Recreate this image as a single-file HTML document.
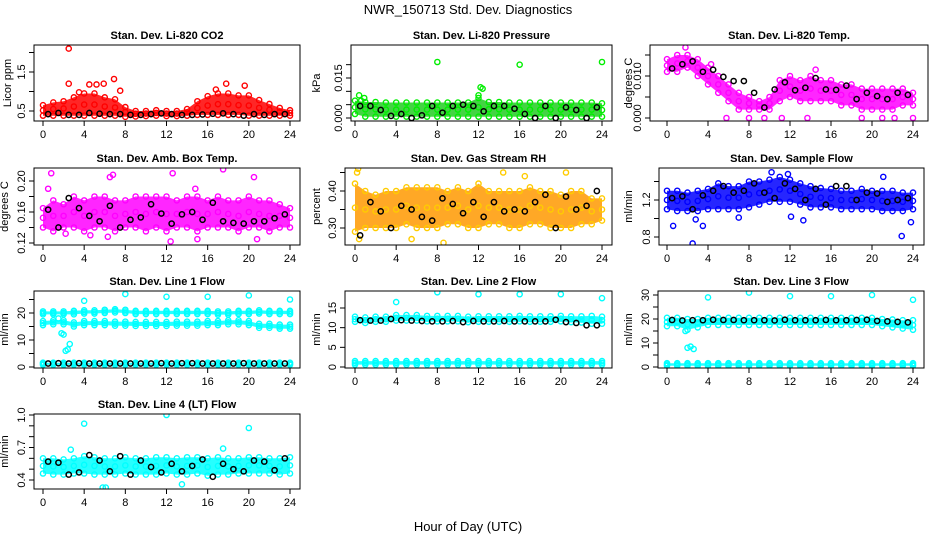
<!DOCTYPE html>
<html><head><meta charset="utf-8"><style>
html,body{margin:0;padding:0;background:#fff;}
svg{display:block;font-family:"Liberation Sans",sans-serif;}
</style></head><body>
<svg id="chart" width="936" height="540" viewBox="0 0 936 540">
<text x="468" y="14" text-anchor="middle" font-size="13">NWR_150713  Std. Dev. Diagnostics</text>
<text x="468" y="531" text-anchor="middle" font-size="13">Hour of Day (UTC)</text>
</svg>
<script>
// ---- data (hourly cloud envelopes 0..24, black hourly means at h+0.5, outliers) ----
const hours = [0,1,2,3,4,5,6,7,8,9,10,11,12,13,14,15,16,17,18,19,20,21,22,23,24];
const xTicks = [0,4,8,12,16,20,24];

const co2Lo = [0.38,0.38,0.38,0.38,0.38,0.38,0.38,0.38,0.35,0.36,0.37,0.38,0.37,0.37,0.38,0.40,0.40,0.40,0.40,0.40,0.38,0.38,0.38,0.38,0.38];
const co2Hi = [0.65,0.72,0.75,0.85,0.95,0.95,0.85,0.80,0.60,0.50,0.50,0.52,0.50,0.50,0.55,0.75,0.88,0.95,0.95,0.90,0.90,0.78,0.68,0.58,0.52];
const co2Black = [0.42,0.45,0.40,0.40,0.45,0.43,0.42,0.42,0.40,0.40,0.42,0.44,0.42,0.40,0.40,0.41,0.43,0.44,0.42,0.38,0.42,0.40,0.42,0.42];
const co2OutX = [2.5,2.5,6.9,17.8,19.6,5.2,4.5,3.5,5.9,7.5,16.8];
const co2OutY = [2.1,1.2,1.32,1.2,1.15,1.18,1.18,0.98,1.2,1.02,1.05];

const presLo = [0.0015,0.0005,0.0005,0.0005,0.0005,0.0005,0.0005,0.0005,0.0005,0.0005,0.0005,0.0005,0.0005,0.0005,0.0005,0.0005,0.0005,0.0005,0.0005,0.0005,0.0005,0.0005,0.0005,0.0005,0.0005];
const presHi = [0.0065,0.006,0.006,0.0058,0.0058,0.0058,0.0058,0.0058,0.0058,0.0058,0.0058,0.0058,0.0075,0.006,0.006,0.0058,0.0058,0.0058,0.0058,0.0058,0.0058,0.0058,0.0058,0.0058,0.0055];
const presBlack = [0.0045,0.0045,0.0030,0.0008,0.0015,0.0,0.0010,0.0045,0.0020,0.0045,0.0050,0.0045,0.0025,0.0045,0.0045,0.0035,0.0015,0.0,0.0045,0.0,0.0040,0.0030,0.0,0.0040];
const presOutX = [8,16,24,0.4,0.6,0.9,12.2,12.0,12.4];
const presOutY = [0.021,0.020,0.021,0.0085,0.0065,0.0075,0.0115,0.0085,0.011];

const tempLo = [0.011,0.011,0.012,0.010,0.008,0.006,0.004,0.002,0.002,0.002,0.002,0.004,0.005,0.004,0.004,0.004,0.004,0.003,0.003,0.002,0.002,0.002,0.002,0.003,0.003];
const tempHi = [0.014,0.015,0.015,0.014,0.012,0.010,0.008,0.006,0.005,0.004,0.005,0.009,0.010,0.009,0.010,0.009,0.009,0.008,0.008,0.007,0.007,0.007,0.007,0.007,0.006];
const tempBlack = [0.0118,0.0128,0.0135,0.011,0.0115,0.0098,0.0088,0.0088,0.006,0.0025,0.0068,0.0085,0.0066,0.0072,0.0095,0.0068,0.0067,0.0077,0.0045,0.0060,0.0052,0.0045,0.0060,0.0055];
const tempOutX = [5.8,8,9.5,11.2,13.7,19,21,22.2,24,1.8,4.3,14.5];
const tempOutY = [0,0,0,0,0,0,0,0,0,0.0168,0.0128,0.0115];

const ambLo = [0.14,0.135,0.14,0.14,0.135,0.14,0.14,0.135,0.14,0.14,0.135,0.14,0.135,0.14,0.14,0.135,0.14,0.14,0.14,0.135,0.14,0.14,0.135,0.14,0.14];
const ambHi = [0.165,0.175,0.17,0.18,0.175,0.18,0.18,0.175,0.175,0.18,0.18,0.18,0.18,0.175,0.18,0.18,0.175,0.18,0.175,0.175,0.18,0.175,0.175,0.17,0.165];
const ambBlack = [0.163,0.14,0.178,0.165,0.155,0.148,0.168,0.14,0.15,0.153,0.17,0.158,0.145,0.157,0.16,0.15,0.172,0.148,0.146,0.145,0.148,0.148,0.152,0.157];
const ambOutX = [0.5,0.8,6.5,6.8,12.6,17.5,20.5,12.4,15,6.3,2.2,4.6,14.8,20.8];
const ambOutY = [0.19,0.21,0.205,0.208,0.21,0.215,0.205,0.122,0.125,0.128,0.132,0.13,0.19,0.125];

const rhLo = [0.29,0.30,0.30,0.30,0.30,0.31,0.30,0.30,0.30,0.31,0.31,0.30,0.30,0.31,0.31,0.30,0.30,0.31,0.31,0.30,0.30,0.30,0.31,0.31,0.32];
const rhHi = [0.42,0.40,0.39,0.40,0.40,0.41,0.41,0.41,0.41,0.40,0.41,0.40,0.42,0.40,0.40,0.40,0.40,0.41,0.40,0.40,0.39,0.40,0.40,0.38,0.38];
const rhBlack = [0.28,0.37,0.345,0.30,0.36,0.35,0.33,0.32,0.38,0.365,0.34,0.37,0.33,0.37,0.345,0.35,0.345,0.37,0.39,0.30,0.385,0.35,0.36,0.40];
const rhOutX = [0.3,0.2,12.0,8.6,0.4,5.5,14.4,20.5,16.5,23.8];
const rhOutY = [0.46,0.45,0.47,0.26,0.27,0.27,0.45,0.45,0.44,0.47];

const sfLo = [1.10,1.08,1.08,1.08,1.10,1.10,1.10,1.10,1.12,1.15,1.18,1.18,1.18,1.15,1.12,1.12,1.12,1.10,1.10,1.10,1.10,1.08,1.08,1.08,1.10];
const sfHi = [1.30,1.30,1.28,1.30,1.32,1.38,1.35,1.35,1.40,1.40,1.42,1.45,1.42,1.38,1.35,1.33,1.32,1.30,1.30,1.32,1.30,1.30,1.30,1.28,1.28];
const sfBlack = [1.22,1.24,1.10,1.25,1.30,1.35,1.28,1.30,1.38,1.28,1.22,1.38,1.32,1.20,1.32,1.15,1.35,1.35,1.20,1.28,1.27,1.18,1.20,1.22];
const sfOutX = [2.5,0.6,2.8,3.5,7.0,10.2,12.1,13.3,22.9,23.8,11.8,21.1];
const sfOutY = [0.73,0.92,0.99,0.92,1.01,1.50,1.02,0.98,0.81,0.96,1.48,1.45];

const l1UpLo = [19.5,19.5,19.5,19.5,19.8,19.8,20,20.2,20,19.6,19.6,19.6,19.6,19.6,19.6,19.6,19.6,19.4,19.4,19.6,19.6,19.8,19.6,19.6,19.6];
const l1UpHi = [20.6,20.6,20.6,20.8,21.0,21.0,21.2,21.4,21.2,20.8,20.8,20.8,20.8,20.8,20.8,20.8,20.8,20.6,20.6,20.8,20.8,21.0,20.8,20.8,20.8];
const l1MidLo = [15.5,15.8,15.8,15.0,15.5,15.5,15.5,15.3,15.3,15.2,15.2,15.2,15.2,15.3,15.3,15.3,15.5,15.5,15.8,15.8,15.5,14.5,14.5,14.2,14.2];
const l1MidHi = [17.0,17.3,17.3,16.5,17.0,17.0,17.0,16.8,16.8,16.7,16.7,16.7,16.7,16.8,16.8,16.8,17.0,17.0,17.3,17.3,17.0,16.0,16.0,15.7,15.7];
const l1BaseLo = [0.8,0.8,0.8,0.8,0.8,0.8,0.8,0.8,0.8,0.8,0.8,0.8,0.8,0.8,0.8,0.8,0.8,0.8,0.8,0.8,0.8,0.8,0.8,0.8,0.8];
const l1BaseHi = [1.6,1.6,1.6,1.6,1.6,1.6,1.6,1.6,1.6,1.6,1.6,1.6,1.6,1.6,1.6,1.6,1.6,1.6,1.6,1.6,1.6,1.6,1.6,1.6,1.6];
const l1Black = [1.3,1.4,1.3,1.4,1.3,1.3,1.3,1.3,1.3,1.3,1.3,1.4,1.3,1.4,1.4,1.3,1.3,1.3,1.3,1.4,1.3,1.3,1.3,1.3];
const l1OutX = [4,8,12,16,20,24,1.8,2.0,2.2,2.4,2.6,1.5,0.1];
const l1OutY = [24.5,27,26,26,26.5,25,12.5,12,6,6.5,8.5,18,1.2];

const l2BandLo = [11.5,11.2,11.5,11.5,11.8,11.8,11.8,11.6,11.6,11.6,11.6,11.4,11.5,11.5,11.5,11.5,11.6,11.5,11.5,11.5,11.6,11.4,11.3,11.0,11.0];
const l2BandHi = [12.8,12.6,12.8,12.8,13.2,13.2,13.2,13.0,13.0,13.0,13.0,12.8,12.9,12.9,12.9,12.9,13.0,12.9,12.9,12.9,13.0,12.9,12.9,13.0,12.8];
const l2BaseLo = [0.6,0.6,0.6,0.6,0.6,0.6,0.6,0.6,0.6,0.6,0.6,0.6,0.6,0.6,0.6,0.6,0.6,0.6,0.6,0.6,0.6,0.6,0.6,0.6,0.6];
const l2BaseHi = [1.5,1.5,1.5,1.5,1.5,1.5,1.5,1.5,1.5,1.5,1.5,1.5,1.5,1.5,1.5,1.5,1.5,1.5,1.5,1.5,1.5,1.5,1.5,1.5,1.5];
const l2Black = [11.9,11.8,11.8,12.2,11.9,11.8,11.7,11.6,11.6,11.7,11.4,11.7,11.6,11.6,11.7,11.6,11.6,11.6,11.6,12.0,11.4,11.2,10.6,10.6];
const l2OutX = [4,8,12,16,20,24];
const l2OutY = [16.5,19,18.5,18.5,18.5,17.5];

const l3BandLo = [17.0,17.0,15.5,16.5,17.5,17.5,17.5,17.5,17.5,17.5,17.5,17.5,17.5,17.5,17.5,17.5,17.5,17.5,17.5,17.5,17.5,17.0,16.5,16.0,15.5];
const l3BandHi = [20.5,20.5,20.0,20.0,20.5,20.5,20.5,20.5,20.5,20.5,20.5,20.5,20.5,20.5,20.5,20.5,20.5,20.5,20.5,20.5,20.5,20.0,19.8,19.5,19.5];
const l3BaseLo = [0.5,0.5,0.5,0.5,0.5,0.5,0.5,0.5,0.5,0.5,0.5,0.5,0.5,0.5,0.5,0.5,0.5,0.5,0.5,0.5,0.5,0.5,0.5,0.5,0.5];
const l3BaseHi = [1.6,1.6,1.6,1.6,1.6,1.6,1.6,1.6,1.6,1.6,1.6,1.6,1.6,1.6,1.6,1.6,1.6,1.6,1.6,1.6,1.6,1.6,1.6,1.6,1.6];
const l3Black = [19.6,19.4,19.5,19.5,19.7,19.6,19.6,19.5,19.5,19.5,19.4,19.7,19.5,19.5,19.5,19.6,19.5,19.5,19.6,19.7,19.2,19.0,18.8,18.6];
const l3OutX = [4,8,12,16,20,24,2.0,2.3,2.6,1.8];
const l3OutY = [29,31,29.5,29.5,30,28,8,8.5,7.5,15];

const l4Lo = [0.46,0.45,0.45,0.46,0.46,0.45,0.45,0.45,0.46,0.45,0.45,0.45,0.46,0.45,0.45,0.46,0.44,0.45,0.45,0.46,0.46,0.46,0.46,0.45,0.46];
const l4Hi = [0.60,0.60,0.59,0.60,0.62,0.61,0.60,0.60,0.61,0.60,0.60,0.61,0.61,0.60,0.61,0.61,0.60,0.61,0.60,0.60,0.61,0.61,0.60,0.60,0.61];
const l4Black = [0.57,0.56,0.45,0.47,0.63,0.58,0.48,0.62,0.45,0.58,0.52,0.47,0.55,0.48,0.53,0.59,0.43,0.55,0.50,0.48,0.58,0.57,0.49,0.60];
const l4OutX = [4,12,20,5.8,6.1,13.5,2.7,17.5];
const l4OutY = [0.92,1.0,0.88,0.33,0.33,0.36,0.68,0.69];

// ---- layout ----
const svg = document.getElementById('chart');
const NS = 'http://www.w3.org/2000/svg';
function mk(tag, attrs, parent){ const e=document.createElementNS(NS,tag); for(const k in attrs) e.setAttribute(k,attrs[k]); (parent||svg).appendChild(e); return e; }

function panel(cfg){
  const g = mk('g',{});
  
  
  const xs = h => cfg.x0 + h*(cfg.x24-cfg.x0)/24;
  const ys = v => cfg.p1 + (v-cfg.v1)*(cfg.p2-cfg.p1)/(cfg.v2-cfg.v1);
  // title
  const t = mk('text',{x:(cfg.l+cfg.r)/2, y:cfg.t-6, 'text-anchor':'middle','font-size':11,'font-weight':'bold'},g);
  t.textContent = cfg.title;
  
  
  // clip
  const cid = 'c'+cfg.name;
  const cp = mk('clipPath',{id:cid},g); mk('rect',{x:cfg.l,y:cfg.t,width:cfg.r-cfg.l,height:cfg.b-cfg.t},cp);
  const pg = mk('g',{'clip-path':'url(#'+cid+')'},g);
  // bands
  cfg.bands.forEach(([lo,hi])=>{
    let d='';
    hours.forEach((h,i)=>{ d += (i?'L':'M')+xs(h).toFixed(1)+','+ys(hi[i]).toFixed(1); });
    for(let i=hours.length-1;i>=0;i--) d += 'L'+xs(hours[i]).toFixed(1)+','+ys(lo[i]).toFixed(1);
    const p = mk('path',{d:d+'Z',fill:cfg.fill,opacity:0.85},pg);
    
    
    hours.forEach((h,i)=>{
      [lo[i],hi[i],(lo[i]+hi[i])/2].forEach(v=>{
        const c = mk('circle',{cx:xs(h),cy:ys(v),r:2.6,fill:'none',stroke:cfg.col,'stroke-width':1.4},pg);
        
        
      });
    });
  });
  cfg.outX.forEach((h,i)=>{
    const c = mk('circle',{cx:xs(h),cy:ys(cfg.outY[i]),r:2.6,fill:'none',stroke:cfg.col,'stroke-width':1.4},pg);
    
    
  });
  cfg.black.forEach((v,i)=>{
    const c = mk('circle',{cx:xs(i+0.5),cy:ys(v),r:2.6,fill:'none',stroke:'#000','stroke-width':1.5},pg);
    
    
  });
  // box
  const bx = mk('rect',{x:cfg.l,y:cfg.t,width:cfg.r-cfg.l,height:cfg.b-cfg.t,fill:'none',stroke:'#000','stroke-width':1},g);
  
  
  // x axis
  xTicks.forEach(h=>{
    mk('line',{x1:xs(h),x2:xs(h),y1:cfg.b,y2:cfg.b+5,stroke:'#000'},g);
    const tl = mk('text',{x:xs(h),y:cfg.b+17,'text-anchor':'middle','font-size':11},g);
    tl.textContent = h;
    
    
  });
  // y axis
  cfg.yt.forEach((v,i)=>{
    const y = ys(v);
    mk('line',{x1:cfg.l-5,x2:cfg.l,y1:y,y2:y,stroke:'#000'},g);
    if(cfg.yl[i]){
      const tl = mk('text',{x:cfg.l-9,y:y,'text-anchor':'middle','font-size':11,transform:'rotate(-90 '+(cfg.l-9)+' '+y+')'},g);
      tl.textContent = cfg.yl[i];
      
      
    }
  });
  const my = (cfg.t+cfg.b)/2;
  const yl = mk('text',{x:cfg.ax,y:my,'text-anchor':'middle','font-size':11,transform:'rotate(-90 '+cfg.ax+' '+my+')'},g);
  yl.textContent = cfg.ylab;
  
  
}

const R1=[45,121], R2=[168,245], R3=[291,368], R4=[414,489];
panel({name:'panel-co2',title:'Stan. Dev. Li-820 CO2',l:34,r:300,t:R1[0],b:R1[1],x0:43,x24:290,v1:0.5,p1:111,v2:1.5,p2:72,
  yt:[0.5,1,1.5,2],yl:['0.5','','1.5',''],ax:11,ylab:'Licor ppm',col:'#ff0000',fill:'#ff0000',bands:[[co2Lo,co2Hi]],black:co2Black,outX:co2OutX,outY:co2OutY});
panel({name:'panel-pressure',title:'Stan. Dev. Li-820 Pressure',l:351,r:612,t:R1[0],b:R1[1],x0:355,x24:602,v1:0,p1:118,v2:0.015,p2:78,
  yt:[0,0.005,0.01,0.015,0.02],yl:['0.000','','','0.015',''],ax:320,ylab:'kPa',col:'#00ee00',fill:'#22cc22',bands:[[presLo,presHi]],black:presBlack,outX:presOutX,outY:presOutY});
panel({name:'panel-temp',title:'Stan. Dev. Li-820 Temp.',l:650,r:928,t:R1[0],b:R1[1],x0:667,x24:913,v1:0,p1:118,v2:0.01,p2:76,
  yt:[0,0.005,0.01,0.015],yl:['0.000','','0.010',''],ax:632,ylab:'degrees C',col:'#ff00ff',fill:'#ff00ff',bands:[[tempLo,tempHi]],black:tempBlack,outX:tempOutX,outY:tempOutY});
panel({name:'panel-amb-temp',title:'Stan. Dev. Amb. Box Temp.',l:34,r:300,t:R2[0],b:R2[1],x0:43,x24:290,v1:0.12,p1:243,v2:0.20,p2:181,
  yt:[0.12,0.14,0.16,0.18,0.20],yl:['0.12','','0.16','','0.20'],ax:8,ylab:'degrees C',col:'#ff00ff',fill:'#ff00ff',bands:[[ambLo,ambHi]],black:ambBlack,outX:ambOutX,outY:ambOutY});
panel({name:'panel-rh',title:'Stan. Dev. Gas Stream RH',l:345,r:612,t:R2[0],b:R2[1],x0:355,x24:602,v1:0.30,p1:228,v2:0.40,p2:191,
  yt:[0.30,0.35,0.40,0.45],yl:['0.30','','0.40',''],ax:320,ylab:'percent',col:'#ffcc00',fill:'#ff9900',bands:[[rhLo,rhHi]],black:rhBlack,outX:rhOutX,outY:rhOutY});
panel({name:'panel-sample-flow',title:'Stan. Dev. Sample Flow',l:659,r:924,t:R2[0],b:R2[1],x0:667,x24:913,v1:0.8,p1:237,v2:1.2,p2:200,
  yt:[0.8,1.0,1.2,1.4],yl:['0.8','','1.2',''],ax:632,ylab:'ml/min',col:'#0000ff',fill:'#0000ff',bands:[[sfLo,sfHi]],black:sfBlack,outX:sfOutX,outY:sfOutY});
panel({name:'panel-line1',title:'Stan. Dev. Line 1 Flow',l:34,r:300,t:R3[0],b:R3[1],x0:43,x24:290,v1:0,p1:367,v2:20,p2:313,
  yt:[0,5,10,15,20,25],yl:['0','','10','','20',''],ax:8,ylab:'ml/min',col:'#00ffff',fill:'#00ffff',bands:[[l1UpLo,l1UpHi],[l1MidLo,l1MidHi],[l1BaseLo,l1BaseHi]],black:l1Black,outX:l1OutX,outY:l1OutY});
panel({name:'panel-line2',title:'Stan. Dev. Line 2 Flow',l:345,r:612,t:R3[0],b:R3[1],x0:355,x24:602,v1:0,p1:367,v2:15,p2:308,
  yt:[0,5,10,15],yl:['0','5','10','15'],ax:320,ylab:'ml/min',col:'#00ffff',fill:'#00ffff',bands:[[l2BandLo,l2BandHi],[l2BaseLo,l2BaseHi]],black:l2Black,outX:l2OutX,outY:l2OutY});
panel({name:'panel-line3',title:'Stan. Dev. Line 3 Flow',l:658,r:924,t:R3[0],b:R3[1],x0:667,x24:913,v1:0,p1:367,v2:30,p2:295,
  yt:[0,5,10,15,20,25,30],yl:['0','','10','','20','','30'],ax:632,ylab:'ml/min',col:'#00ffff',fill:'#00ffff',bands:[[l3BandLo,l3BandHi],[l3BaseLo,l3BaseHi]],black:l3Black,outX:l3OutX,outY:l3OutY});
panel({name:'panel-line4',title:'Stan. Dev. Line 4 (LT) Flow',l:34,r:300,t:R4[0],b:R4[1],x0:43,x24:290,v1:0.4,p1:480,v2:1.0,p2:415,
  yt:[0.4,0.5,0.6,0.7,0.8,0.9,1.0],yl:['0.4','','','0.7','','','1.0'],ax:8,ylab:'ml/min',col:'#00ffff',fill:'#00ffff',bands:[[l4Lo,l4Hi]],black:l4Black,outX:l4OutX,outY:l4OutY});
</script>
</body></html>
